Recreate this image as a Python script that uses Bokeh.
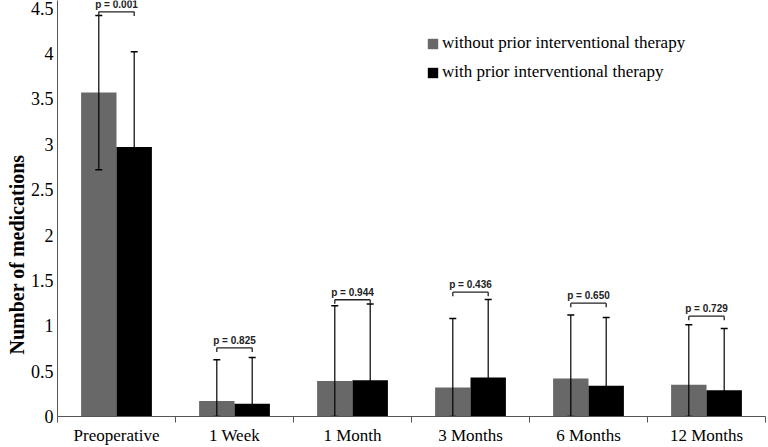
from bokeh.plotting import figure
from bokeh.models import (ColumnDataSource, Range1d, FixedTicker, Title, Legend, LegendItem)
from bokeh.transform import dodge
from bokeh.core.properties import value
from bokeh.embed import file_html
from bokeh.resources import INLINE

# ---- data ----
categories = ["Preoperative", "1 Week", "1 Month", "3 Months", "6 Months", "12 Months"]
mean_without = [3.57, 0.17, 0.39, 0.32, 0.42, 0.35]
sd_without = [0.85, 0.455, 0.83, 0.76, 0.70, 0.66]
mean_with = [2.97, 0.14, 0.40, 0.43, 0.34, 0.29]
sd_with = [1.05, 0.51, 0.84, 0.86, 0.75, 0.68]
p_labels = ["p = 0.001", "p = 0.825", "p = 0.944", "p = 0.436", "p = 0.650", "p = 0.729"]
bracket_y = [4.46, 0.757, 1.287, 1.37, 1.249, 1.106]
y_ticks = [0, 0.5, 1, 1.5, 2, 2.5, 3, 3.5, 4, 4.5]
y_tick_labels = ["0", "0.5", "1", "1.5", "2", "2.5", "3", "3.5", "4", "4.5"]
series_names = ["without prior interventional therapy", "with prior interventional therapy"]
y_title = "Number  of medications"

GRAY = "#686868"
BLACK = "#000000"
SERIF = "Liberation Serif"

n = len(categories)
centers = [i + 0.5 for i in range(n)]
bounds = list(range(n + 1))

src = ColumnDataSource(dict(
    xc=centers,
    m0=mean_without, m1=mean_with,
    hi0=[m + s for m, s in zip(mean_without, sd_without)],
    lo0=[max(0.0, m - s) for m, s in zip(mean_without, sd_without)],
    hi1=[m + s for m, s in zip(mean_with, sd_with)],
    lo1=[max(0.0, m - s) for m, s in zip(mean_with, sd_with)],
    by=bracket_y,
    bt=[b - 0.045 for b in bracket_y],
    pl=p_labels,
))

p = figure(width=768, height=447, output_backend="svg", toolbar_location=None,
           x_range=Range1d(0, n), y_range=Range1d(0, 4.585),
           min_border_left=57, min_border_right=3, min_border_top=0, min_border_bottom=31)
p.outline_line_color = None
p.xgrid.visible = False
p.ygrid.visible = False
p.background_fill_color = "white"

off = 0.15
bw = 0.3
r0 = p.vbar(x=dodge("xc", -off, range=p.x_range), top="m0", width=bw, bottom=0,
            source=src, fill_color=GRAY, line_color=None)
r1 = p.vbar(x=dodge("xc", off, range=p.x_range), top="m1", width=bw, bottom=0,
            source=src, fill_color=BLACK, line_color=None)

# error bars
for o, hi, lo in [(-off, "hi0", "lo0"), (off, "hi1", "lo1")]:
    p.segment(x0=dodge("xc", o, range=p.x_range), y0=lo, x1=dodge("xc", o, range=p.x_range), y1=hi,
              source=src, line_color="black", line_width=1.2)
    p.scatter(x=dodge("xc", o, range=p.x_range), y=hi, source=src, marker="dash", size=7,
              line_color="black", line_width=1.5)
    p.scatter(x=dodge("xc", o, range=p.x_range), y=lo, source=src, marker="dash", size=7,
              line_color="black", line_width=1.5)

# p-value brackets
p.segment(x0=dodge("xc", -off, range=p.x_range), y0="by", x1=dodge("xc", off, range=p.x_range), y1="by",
          source=src, line_color="#222222", line_width=1.3)
for o in (-off, off):
    p.segment(x0=dodge("xc", o, range=p.x_range), y0="by", x1=dodge("xc", o, range=p.x_range), y1="bt",
              source=src, line_color="#222222", line_width=1.3)
p.text(x="xc", y="by", text="pl", source=src, text_align="center", text_baseline="bottom",
       y_offset=-2, text_font=value("Liberation Sans"), text_font_size="10px",
       text_font_style="bold", text_color="#222222")

# axes
xa = p.xaxis[0]
xa.ticker = FixedTicker(ticks=centers, minor_ticks=bounds)
xa.major_label_overrides = {c: name for c, name in zip(centers, categories)}
xa.major_tick_line_color = None
xa.major_tick_out = 0
xa.major_tick_in = 0
xa.minor_tick_out = 6
xa.minor_tick_in = 0
xa.minor_tick_line_color = "#555555"
xa.axis_line_color = "#555555"
xa.major_label_text_font = SERIF
xa.major_label_text_font_size = "17px"
xa.major_label_text_color = "black"
xa.major_label_standoff = 3

ya = p.yaxis[0]
ya.ticker = FixedTicker(ticks=y_ticks)
ya.major_label_overrides = {t: s for t, s in zip(y_ticks, y_tick_labels)}
ya.major_tick_line_color = None
ya.major_tick_out = 0
ya.major_tick_in = 0
ya.minor_tick_line_color = None
ya.axis_line_color = "#555555"
ya.major_label_text_font = SERIF
ya.major_label_text_font_size = "18px"
ya.major_label_text_color = "black"
ya.major_label_standoff = 4

ytitle = Title(text=y_title, align="left", offset=62, standoff=0,
               text_font=SERIF, text_font_size="20px", text_font_style="bold",
               text_color="black")
p.add_layout(ytitle, "left")

legend = Legend(items=[LegendItem(label=series_names[0], renderers=[r0]),
                       LegendItem(label=series_names[1], renderers=[r1])],
                location=(369, 334), orientation="vertical")
legend.border_line_color = None
legend.background_fill_alpha = 0
legend.padding = 0
legend.margin = 0
legend.spacing = 9
legend.glyph_width = 13
legend.glyph_height = 13
legend.label_height = 18
legend.label_standoff = 3
legend.label_text_font = SERIF
legend.label_text_font_size = "17px"
legend.label_text_color = "black"
p.add_layout(legend)

open("out.html", "w").write(file_html(p, INLINE))
